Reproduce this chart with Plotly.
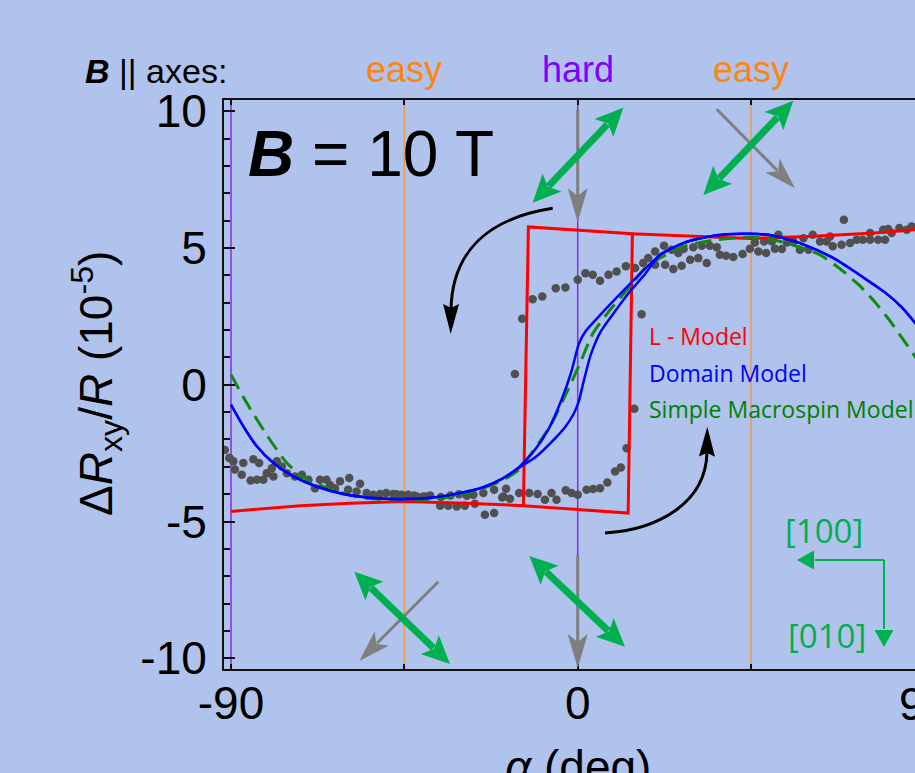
import math
import plotly.graph_objects as go

# ---------------- data ----------------
# measured points, sweep with increasing alpha
meas_up_x = [-91.6, -90.4, -89.0, -87.2, -84.9, -83.3, -81.6, -79.0, -75.5, -73.4, -69.9, -68.2,
             -64.3, -63.0, -59.6, -57.4, -54.8, -53.1, -51.3, -49.7, -47.9, -45.7, -44.0, -41.8,
             -39.2, -35.7, -33.6, -31.4, -29.3, -26.7, -24.1, -21.7, -19.6, -17.6, -15.2, -12.6,
             -10.4, -8.5, -6.8, -5.5, -3.1, -1.6, 0.0, 2.3, 4.0, 5.8, 7.7, 9.7, 11.2, 12.7, 14.7,
             16.6, 20.1, 22.7, 24.8, 27.0, 29.2, 31.3, 33.5, 36.9, 38.5, 40.4, 42.8, 46.9, 48.9,
             51.2, 53.0, 57.7, 59.9, 62.9, 66.2, 68.5, 70.7, 72.4, 75.9, 78.0, 79.8, 81.5, 85.4]
meas_up_y = [-2.38, -2.68, -3.10, -3.29, -3.50, -3.47, -3.47, -3.35, -3.23, -3.35, -3.47, -3.78,
             -3.66, -3.78, -3.84, -3.90, -3.96, -4.02, -3.99, -3.96, -3.99, -4.02, -4.02, -4.08,
             -4.08, -4.42, -4.42, -4.45, -4.42, -4.35, -4.75, -4.69, -4.12, -4.17, -3.96, -3.96,
             -3.99, -4.20, -3.96, -4.20, -3.86, -3.96, -4.02, -3.84, -3.81, -3.78, -3.57, -3.17,
             -3.02, -2.32, -0.88, 2.58, 4.39, 4.39, 4.23, 4.35, 4.57, 4.63, 4.45, 4.75, 4.72, 4.67,
             4.78, 4.87, 4.82, 4.97, 4.96, 4.94, 4.94, 5.24, 5.06, 5.12, 5.18, 5.30, 5.30, 5.30,
             5.30, 5.55, 5.67]
# measured points, sweep with decreasing alpha
meas_dn_x = [86.7, 83.5, 80.6, 79.3, 75.9, 74.0, 69.1, 65.5, 64.6, 61.0, 58.6, 56.0, 54.3, 52.1,
             50.4, 48.4, 46.0, 44.7, 36.1, 34.3, 32.2, 30.0, 27.5, 26.1, 24.4, 22.4, 20.1, 18.3,
             17.0, 14.9, 12.5, 10.1, 8.0, 5.8, 3.9, 2.0, 0.0, -3.2, -5.7, -9.2, -11.7, -14.4, -16.3,
             -18.6, -19.3, -21.7, -24.5, -27.1, -28.8, -30.8, -33.0, -35.5, -38.3, -40.1, -42.5,
             -47.0, -56.5, -59.3, -61.7, -65.2, -66.9, -71.6, -76.8, -78.1, -79.4, -80.7, -82.7,
             -84.2, -86.8, -89.4, -90.4]
meas_dn_y = [5.79, 5.73, 5.69, 5.67, 5.55, 5.30, 6.03, 5.42, 5.24, 5.48, 5.36, 5.24, 5.20, 5.48,
             5.24, 5.24, 5.20, 4.97, 5.03, 5.08, 5.08, 5.03, 4.96, 4.82, 4.94, 5.08, 4.87, 4.63,
             4.45, 4.27, 4.33, 4.14, 4.02, 3.80, 4.02, 4.08, 3.84, 3.56, 3.53, 3.23, 3.13, 2.41, 0.39,
             -3.80, -4.08, -3.84, -3.96, -4.02, -4.06, -4.00, -4.05, -4.10, -4.05, -4.08, -4.05,
             -4.00, -3.62, -3.41, -3.53, -3.47, -3.47, -3.29, -2.99, -2.80, -3.05, -3.23, -2.86,
             -2.72, -2.86, -2.80, -2.68]

# L - Model (hysteresis loop)
lmodel_x = [-90, -72, -59, -45, -29, -14.1, 0, 13.1, 14.2, 30, 44.7, 60, 77, 87.6, 90]
lmodel_y = [-4.63, -4.42, -4.33, -4.27, -4.33, -4.42, -4.56, -4.69, 5.52, 5.42, 5.35, 5.42, 5.55, 5.67, 5.70]
lmodel_ret_x = [14.2, -12.8, -14.1]
lmodel_ret_y = [5.52, 5.77, -4.42]

# Domain Model (two branches)
dom_left_x = [-90, -86.8, -83.3, -79.0, -73.8, -67.8, -60.9, -53.1, -44.8, -37.5, -30.6, -24.5, -19.3, -15.8]
dom_left_y = [-0.73, -1.52, -2.25, -2.86, -3.35, -3.72, -3.99, -4.14, -4.18, -4.12, -3.96, -3.74, -3.41, -3.08]
dom_right_x = [21.4, 27.4, 33.5, 38.7, 44.7, 50.8, 57.7, 62.0, 66.4, 70.7, 75.0, 80.0, 84.0, 87.6, 90]
dom_right_y = [4.75, 5.18, 5.40, 5.50, 5.52, 5.45, 5.18, 4.93, 4.63, 4.25, 3.84, 3.35, 2.85, 2.26, 1.80]
dom_dn_mid_x = [-11.5, -7.5, -4.2, -1.6, 0.3, 2.0, 5.5, 9.7, 14.0, 18.8]
dom_dn_mid_y = [-2.45, -1.60, -0.55, 0.50, 1.50, 1.95, 2.50, 3.13, 3.75, 4.42]
dom_up_mid_x = [-11.0, -6.5, -3.3, -1.0, 0.3, 1.5, 3.4, 6.0, 9.5, 13.5, 17.5]
dom_up_mid_y = [-2.65, -2.05, -1.55, -1.05, -0.60, 0.10, 1.10, 1.95, 2.65, 3.40, 4.05]

# Simple Macrospin Model
macro_x = [-90, -85.9, -79.9, -75.5, -70.4, -63.4, -56.5, -49.6, -41.8, -34.0, -27.1, -21.0, -15.8,
           -7.2, -2.9, 0.6, 4.0, 8.4, 13.6, 17.9, 27.4, 36.0, 44.7, 50.0, 56.0, 62.9, 68.0, 73.0,
           77.0, 81.0, 84.5, 87.6, 90]
macro_y = [0.37, -0.67, -2.01, -2.86, -3.47, -3.84, -4.12, -4.20, -4.20, -4.12, -3.90, -3.59, -3.17,
           -1.52, -0.30, 0.79, 1.89, 2.74, 3.59, 4.33, 5.06, 5.30, 5.40, 5.33, 5.10, 4.75, 4.25, 3.65,
           3.05, 2.35, 1.65, 1.03, 0.40]

x_ticks = [-90, 0, 90]
x_ticklabels = ['-90', '0', '90']
x_minor_ticks = [-45, 45]
y_ticks = [-10, -5, 0, 5, 10]
y_ticklabels = ['-10', '-5', '0', '5', '10']
axis_pos = [-90, -45, 0, 45]
axis_kind = ['hard', 'easy', 'hard', 'easy']
axis_label_pos = [-45, 0, 45]
axis_label_text = ['easy', 'hard', 'easy']

# ---------------- layout geometry ----------------
W, H = 915, 773
ML, MR, MT, MB = 224, 0, 100, 104
XR = [-91.82, 87.56]
YR = [-10.39, 10.41]
PW, PH = W - ML - MR, H - MT - MB

def px2x(p):
    return XR[0] + (p - ML) / PW * (XR[1] - XR[0])

def py2y(p):
    return YR[1] - (p - MT) / PH * (YR[1] - YR[0])

def pxp(p):
    return (p - ML) / PW

def pyp(p):
    return (H - MB - p) / PH

def d2px(x):
    return ML + (x - XR[0]) / (XR[1] - XR[0]) * PW

BG = '#afc3ec'
ORANGE_LINE = '#f09a4e'
ORANGE_TXT = '#ff8410'
PURPLE = '#8a2be2'
PURPLE_TXT = '#8000ff'
GREEN_ARR = '#00b050'
GRAY_ARR = '#7f7f7f'
FONT = 'Liberation Sans, Arial, sans-serif'
FONT2 = 'Open Sans, Noto Sans, sans-serif'

fig = go.Figure()

dot = dict(color='#505050', size=8.5)
fig.add_trace(go.Scatter(x=meas_up_x, y=meas_up_y, mode='markers', marker=dot, showlegend=False))
fig.add_trace(go.Scatter(x=meas_dn_x, y=meas_dn_y, mode='markers', marker=dot, showlegend=False))

fig.add_trace(go.Scatter(x=lmodel_x, y=lmodel_y, mode='lines', line=dict(color='#ff0000', width=3), showlegend=False))
fig.add_trace(go.Scatter(x=lmodel_ret_x, y=lmodel_ret_y, mode='lines', line=dict(color='#ff0000', width=3), showlegend=False))

fig.add_trace(go.Scatter(x=macro_x, y=macro_y, mode='lines', line=dict(color='#118a11', width=3, dash='16px,8px', shape='spline', smoothing=0.6), showlegend=False))

for mx, my in [(dom_dn_mid_x, dom_dn_mid_y), (dom_up_mid_x, dom_up_mid_y)]:
    fig.add_trace(go.Scatter(x=dom_left_x + mx + dom_right_x, y=dom_left_y + my + dom_right_y,
                             mode='lines', line=dict(color='#0000ff', width=2.5, shape='spline', smoothing=0.6),
                             showlegend=False))

shapes = []
# vertical axis-direction lines
for xv, kind in zip(axis_pos, axis_kind):
    shapes.append(dict(type='line', xref='x', yref='paper', x0=xv, x1=xv, y0=0, y1=1, layer='below',
                       line=dict(color=PURPLE if kind == 'hard' else ORANGE_LINE, width=1.5)))

def head_path(tip, u, hl, hw, notch, color):
    tx, ty = tip
    ux, uy = u
    nx, ny = -uy, ux
    bx, by = tx - ux * hl, ty - uy * hl
    pts = [(tx, ty), (bx + nx * hw, by + ny * hw), (tx - ux * (hl - notch), ty - uy * (hl - notch)),
           (bx - nx * hw, by - ny * hw)]
    path = 'M ' + ' L '.join(f'{px2x(a):.4f},{py2y(b):.4f}' for a, b in pts) + ' Z'
    return dict(type='path', xref='x', yref='y', path=path, fillcolor=color, line=dict(width=0), layer='above')

def straight_arrow(p0, p1, color, lw, hl, hw, notch, both=False):
    x0, y0 = p0
    x1, y1 = p1
    d = math.hypot(x1 - x0, y1 - y0)
    ux, uy = (x1 - x0) / d, (y1 - y0) / d
    back = hl - notch + 1
    sx, sy = (x0 + ux * back, y0 + uy * back) if both else (x0, y0)
    ex, ey = x1 - ux * back, y1 - uy * back
    out = [dict(type='line', xref='x', yref='y', x0=px2x(sx), y0=py2y(sy), x1=px2x(ex), y1=py2y(ey),
                line=dict(color=color, width=lw), layer='above'),
           head_path(p1, (ux, uy), hl, hw, notch, color)]
    if both:
        out.append(head_path(p0, (-ux, -uy), hl, hw, notch, color))
    return out

def curved_arrow(pts, tip, color, lw, hl, hw, notch):
    (a, b), (c, d), (e, f), (g, h) = pts
    path = (f'M {px2x(a):.4f},{py2y(b):.4f} C {px2x(c):.4f},{py2y(d):.4f} '
            f'{px2x(e):.4f},{py2y(f):.4f} {px2x(g):.4f},{py2y(h):.4f}')
    dd = math.hypot(tip[0] - g, tip[1] - h)
    u = ((tip[0] - g) / dd, (tip[1] - h) / dd)
    return [dict(type='path', xref='x', yref='y', path=path, line=dict(color=color, width=lw),
                 fillcolor='rgba(0,0,0,0)', layer='above'),
            head_path(tip, u, hl, hw, notch, color)]

# gray field arrows
shapes += straight_arrow((577.7, 110), (577.7, 222), GRAY_ARR, 3, 34, 10, 8)
shapes += straight_arrow((716.7, 109.3), (795, 188.3), GRAY_ARR, 3, 32, 10, 8)
shapes += straight_arrow((438.3, 581.7), (359.3, 661), GRAY_ARR, 3, 32, 10, 8)
shapes += straight_arrow((577.7, 555), (577.7, 668), GRAY_ARR, 3, 34, 10, 8)
# green magnetisation double arrows
for p0, p1 in [((532.7, 202.7), (623.3, 107.7)), ((703.3, 195), (793.3, 100.7)),
               ((354.3, 571.7), (450, 664)), ((529.3, 556), (625, 646.7))]:
    shapes += straight_arrow(p0, p1, GREEN_ARR, 7, 28, 13, 6, both=True)
# black curved sweep arrows
shapes += curved_arrow([(552.7, 208.3), (490, 218), (452, 250), (451, 310)], (450.7, 334), 'black', 3, 30, 8, 4)
shapes += curved_arrow([(605, 533), (655, 530), (706, 505), (707, 452)], (707.3, 426.7), 'black', 3, 30, 8, 4)
# crystal axes indicator
shapes += straight_arrow((884, 560), (797, 560), GREEN_ARR, 2, 17, 9.5, 0)
shapes += straight_arrow((884, 560), (884, 647), GREEN_ARR, 2, 17, 9.5, 0)
shapes.append(dict(type='line', xref='x', yref='y', x0=px2x(884), y0=py2y(560), x1=px2x(884), y1=py2y(561),
                   line=dict(color=GREEN_ARR, width=2)))

ann = []

def txt(text, x, y, size, color='black', xanchor='center', yanchor='middle', family=FONT, xref='paper', angle=0):
    ann.append(dict(text=text, x=x, y=y, xref=xref, yref='paper', showarrow=False, xanchor=xanchor,
                    yanchor=yanchor, textangle=angle, font=dict(size=size, color=color, family=family)))

txt('<b><i>B</i></b> || axes:', pxp(229), pyp(71), 34, xanchor='right')
for xv, t in zip(axis_label_pos, axis_label_text):
    txt(t, xv, pyp(70), 36, color=ORANGE_TXT if t == 'easy' else PURPLE_TXT, xref='x')
txt('<b><i>B</i></b> = 10 T', pxp(246), pyp(154), 64, xanchor='left')
txt('L - Model', pxp(647), pyp(336), 23, color='#ff0000', xanchor='left', family=FONT2)
txt('Domain Model', pxp(647), pyp(373), 23, color='#0000ff', xanchor='left', family=FONT2)
txt('Simple Macrospin Model', pxp(647), pyp(409), 23, color='#008000', xanchor='left', family=FONT2)
txt('[100]', pxp(824), pyp(530), 33, color=GREEN_ARR, family=FONT2)
txt('[010]', pxp(827), pyp(635), 33, color=GREEN_ARR, family=FONT2)
txt('Δ<i>R</i><sub>xy</sub>/<i>R</i> (10<sup>-5</sup>)', pxp(96), pyp(384), 46, angle=-90)
txt('<i>α</i> (deg)', pxp(577.7), pyp(739), 46, yanchor='top')
txt(x_ticklabels[-1], pxp(d2px(x_ticks[-1])), pyp(704), 46)

fig.update_layout(
    width=W, height=H, margin=dict(l=ML, r=MR, t=MT, b=MB, pad=0),
    paper_bgcolor=BG, plot_bgcolor=BG, showlegend=False,
    font=dict(family=FONT, color='black'),
    shapes=shapes, annotations=ann,
    xaxis=dict(range=XR, showline=True, linecolor='#111111', linewidth=2, mirror='ticks',
               ticks='inside', ticklen=5, tickwidth=1.5, tickcolor='#111111',
               tickvals=x_ticks, ticktext=x_ticklabels, ticklabelstandoff=-7,
               tickfont=dict(size=46, family=FONT, color='black'),
               minor=dict(tickmode='array', tickvals=x_minor_ticks, ticks='inside', ticklen=5,
                          tickwidth=1.5, tickcolor='#111111', showgrid=False),
               showgrid=False, zeroline=False),
    yaxis=dict(range=YR, showline=True, linecolor='#111111', linewidth=2, mirror=False,
               ticks='inside', ticklen=11, tickwidth=1.5, tickcolor='#111111',
               tickvals=y_ticks, ticktext=y_ticklabels, ticklabelstandoff=6,
               tickfont=dict(size=46, family=FONT, color='black'),
               minor=dict(tickmode='linear', tick0=0, dtick=1, ticks='inside', ticklen=6,
                          tickwidth=1.5, tickcolor='#111111', showgrid=False),
               showgrid=False, zeroline=False),
)

fig.write_html('out.html', config={'displayModeBar': False}, post_script=(
    "document.body.style.margin='0px';"
    "document.body.style.background='" + BG + "';"
    "document.documentElement.style.overflow='hidden';"))
